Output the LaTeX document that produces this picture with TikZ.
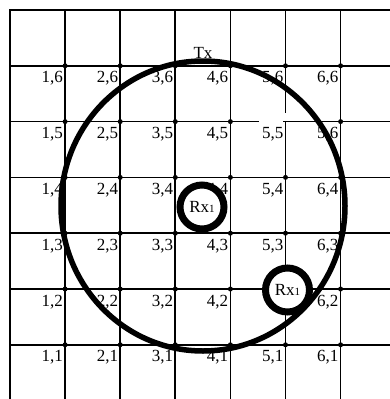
\documentclass[tikz,border=0pt]{standalone}
\usepackage{fontspec}
\setmainfont{Liberation Serif}
\begin{document}
\begin{tikzpicture}[x=1pt,y=-1pt,
  gridline/.style={line width=1.7pt, line cap=rect},
  lab/.style={anchor=base east, inner sep=0pt, font=\fontsize{17}{17}\selectfont},
  dot/.style={circle, fill=black, inner sep=0pt, minimum size=5pt},
  ring/.style={circle, draw, line width=7pt, minimum size=44pt, inner sep=0pt, fill=white,
    font=\fontsize{17}{17}\selectfont}]
\useasboundingbox (0,0) rectangle (390,399);
\fill[white] (0,0) rectangle (390,399);
% vertical lines
\foreach \k in {0,1,2,3,4,6} {
  \draw[gridline] ({10+55.1*\k},10) -- ({10+55.1*\k},399);
}
\draw[gridline] ({10+55.1*5},10) -- ({10+55.1*5},112);
\draw[gridline] ({10+55.1*5},121.6) -- ({10+55.1*5},399);
% horizontal lines
\foreach \k in {0,1,3,4,5,6} {
  \draw[gridline] (10,{10+55.8*\k}) -- (390,{10+55.8*\k});
}
\draw[gridline] (10,{10+55.8*2}) -- (258,{10+55.8*2});
\draw[gridline] (284,{10+55.8*2}) -- (390,{10+55.8*2});
% labels and dots
\foreach \i in {1,...,4} {
  \foreach \j in {1,...,6} {
    \node[lab] (l\i\j) at ({10+55.1*\i-2},{10+55.8*(7-\j)+17}) {\i,\j};
  }
}
\foreach \j in {1,3,4,5,6} {
  \node[lab] (l5\j) at ({10+55.1*5-2},{10+55.8*(7-\j)+17}) {5,\j};
}
\foreach \j in {1,2,3,4,6} {
  \node[lab] (l6\j) at ({10+55.1*6-2},{10+55.8*(7-\j)+17}) {6,\j};
}
\node[lab] (l65) at ({10+55.1*6-2},{10+55.8*2+17}) {5,6};
\foreach \i in {1,...,6} {
  \foreach \j in {1,2,3,4,6} {
    \node[dot] (d\i\j) at ({10+55.1*\i},{10+55.8*(7-\j)}) {};
  }
}
\foreach \i in {1,2,3,4,6} {
  \node[dot] (d\i5) at ({10+55.1*\i},{10+55.8*2}) {};
}
% transmitter coverage
\node[anchor=base, inner sep=0pt, font=\fontsize{17}{17}\selectfont] (tx) at (203,58) {Tx};
\draw[line width=5.5pt] (203,206) ellipse [x radius=142, y radius=145];
% receivers
\node[ring] (rx1) at (202,207) {\raisebox{-2pt}{Rx{\fontsize{11}{11}\selectfont 1}}};
\node[ring] (rx2) at (287.5,290) {\raisebox{-2pt}{Rx{\fontsize{11}{11}\selectfont 1}}};
\end{tikzpicture}
\end{document}
